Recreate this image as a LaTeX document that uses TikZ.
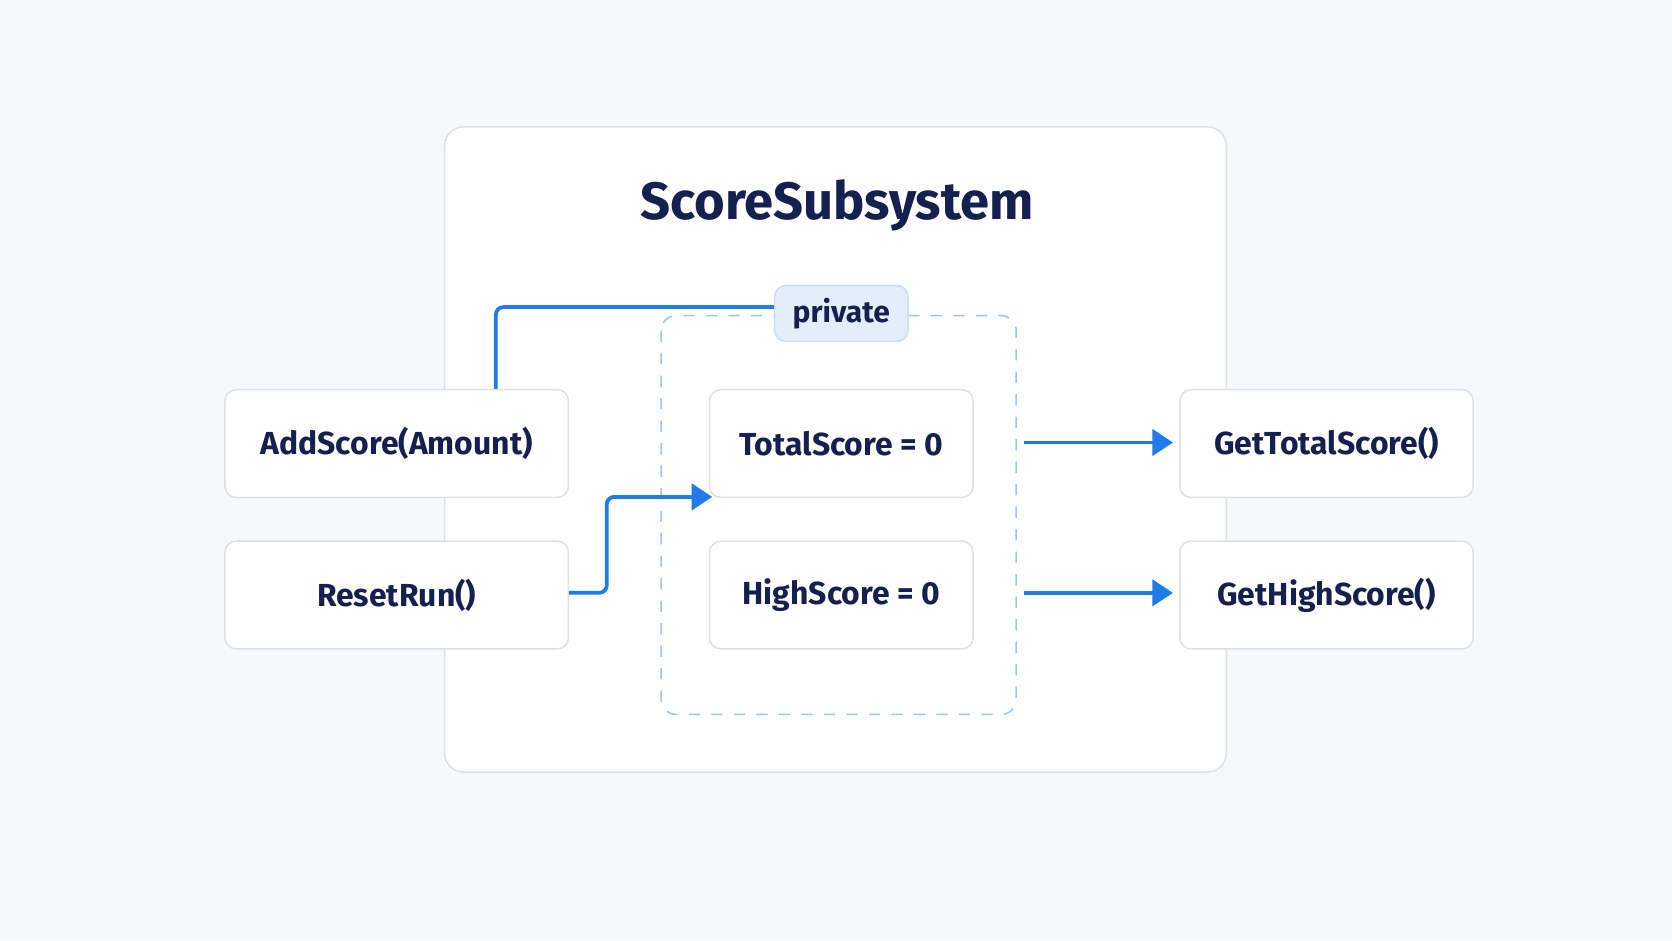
\documentclass[tikz,border=0pt]{standalone}
\usepackage{fontspec}
\setmainfont{Fira Sans}
\usetikzlibrary{arrows.meta}
\definecolor{navy}{HTML}{14204F}
\definecolor{linkblue}{HTML}{1E7BE8}
\definecolor{edge}{HTML}{DDE1E6}
\definecolor{tagfill}{HTML}{E3EEFB}
\definecolor{bg}{HTML}{F7F8F9}

\tikzset{
    card/.style={rectangle, rounded corners=3pt, draw=edge, fill=white, line width=0.4pt,
        minimum height=1.01cm, text=navy, font=\fontsize{8.5}{10}\selectfont\bfseries},
    link/.style={draw=linkblue, line width=1pt, rounded corners=2pt},
    tip/.style={-{Triangle[length=5.5pt,width=7pt]}}
}

\begin{document}
\begin{tikzpicture}[x=0.01cm, y=-0.01cm]
        \fill [bg] (0,0) rectangle (1568,882);
        \useasboundingbox (0,0) rectangle (1568,882);
        \draw [edge, fill=white, rounded corners=5pt, line width=0.4pt] (417,119) rectangle (1150,724);
        \node [text=navy, font=\fontsize{14}{17}\selectfont\bfseries] (title) at (785,193) {ScoreSubsystem};
        \draw [linkblue!45, dashed, rounded corners=4pt, line width=0.4pt] (620,296) rectangle (953,670);
        \node [rectangle, rounded corners=3pt, draw=linkblue!25, fill=tagfill, text=navy,
            minimum width=1.25cm, minimum height=0.5cm, font=\fontsize{8}{10}\selectfont\bfseries] (priv) at (789,294) {private};
        \node [card, minimum width=3.22cm] (add) at (372,416) {AddScore(Amount)};
        \node [card, minimum width=3.22cm] (reset) at (372,558) {ResetRun()};
        \node [card, minimum width=2.47cm] (total) at (789,416) {TotalScore = 0};
        \node [card, minimum width=2.47cm] (high) at (789,558) {HighScore = 0};
        \node [card, minimum width=2.75cm] (gettotal) at (1244,416) {GetTotalScore()};
        \node [card, minimum width=2.75cm] (gethigh) at (1244,558) {GetHighScore()};
        \coordinate (ta) at (668,466);
        \coordinate (o1) at (960,415);
        \coordinate (o2) at (960,556);
        \draw [link] (add.north -| 465,0) |- (priv.west |- 0,288);
        \draw [link, tip] (reset.east |- 0,556) -| (569,466) -- (ta);
        \draw [link, tip] (o1) -- (1100,415);
        \draw [link, tip] (o2) -- (1100,556);
    \end{tikzpicture}
\end{document}
